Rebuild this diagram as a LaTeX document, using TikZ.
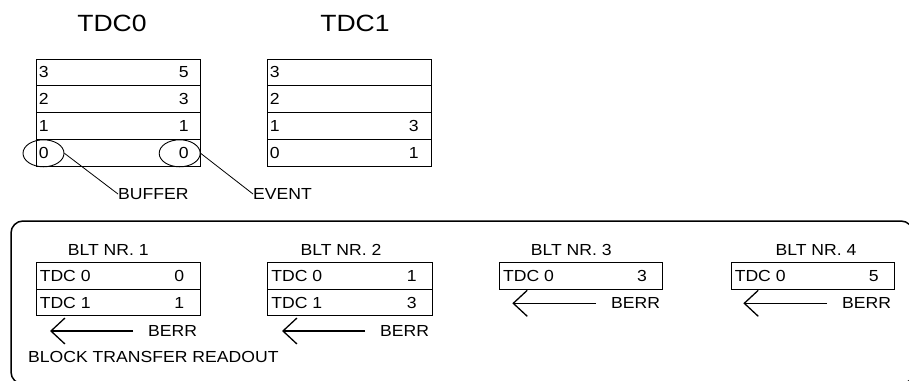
\documentclass[tikz,border=0pt]{standalone}
\usepackage{fontspec}
\setmainfont{Liberation Sans}
\usetikzlibrary{shapes.geometric,arrows.meta}
\newcommand\wx[1]{\scalebox{1.1}[1]{#1}}
\newcommand\wt[1]{\scalebox{1.13}[1]{#1}}
\tikzset{
  cell/.style={draw,line width=0.9pt,minimum width=#1,minimum height=26.9pt,inner sep=0pt},
  bcell/.style={draw,line width=0.9pt,minimum width=#1,minimum height=26.5pt,inner sep=0pt},
  txt/.style={inner sep=0pt,font=\fontsize{16}{16}\selectfont},
  ttl/.style={inner sep=0pt,font=\fontsize{23.5}{23.5}\selectfont},
  oval/.style={draw,ellipse,line width=0.9pt,minimum width=41pt,minimum height=27pt,inner sep=0pt},
  lead/.style={line width=0.8pt},
  barb/.style={line width=1.3pt,-{Straight Barb[length=14pt,width=26pt,line width=1.3pt]}},
  frame/.style={line width=1.5pt,rounded corners=12pt}
}
\begin{document}
\begin{tikzpicture}[x=1pt,y=-1pt]
\useasboundingbox (0,0) rectangle (909,380);
% titles
\node[ttl] (t0) at (112,23) {\wt{TDC0}};
\node[ttl] (t1) at (355,23) {\wt{TDC1}};
% TDC0 cells
\node[cell=163.3pt] (a3) at (118.35,72.45) {};
\node[cell=163.3pt] (a2) at (118.35,99.35) {};
\node[cell=163.3pt] (a1) at (118.35,126.25) {};
\node[cell=163.3pt] (a0) at (118.35,153.15) {};
\foreach \r/\v in {3/5,2/3,1/1,0/0}{
  \node[txt,anchor=west] (al\r) at ([xshift=2.5pt]a\r.west) {\wx{\r}};
  \node[txt,anchor=east] (ar\r) at ([xshift=-11.7pt]a\r.east) {\wx{\v}};
}
% TDC1 cells
\node[cell=163.3pt] (b3) at (349.35,72.45) {};
\node[cell=163.3pt] (b2) at (349.35,99.35) {};
\node[cell=163.3pt] (b1) at (349.35,126.25) {};
\node[cell=163.3pt] (b0) at (349.35,153.15) {};
\foreach \r in {3,2,1,0}{
  \node[txt,anchor=west] (bl\r) at ([xshift=2.5pt]b\r.west) {\wx{\r}};
}
\node[txt,anchor=east] (br1) at ([xshift=-12.7pt]b1.east) {\wx{3}};
\node[txt,anchor=east] (br0) at ([xshift=-12.7pt]b0.east) {\wx{1}};
% ellipses and leaders
\node[oval] (e1) at (43.5,153.3) {};
\node[oval] (e2) at (179.7,153.3) {};
\node[txt,anchor=west] (buf) at (118,194) {\wx{BUFFER}};
\node[txt,anchor=west] (evt) at (253,194) {\wx{EVENT}};
\draw[lead] (e1.east) -- (buf.west);
\draw[lead] (e2.east) -- (evt.west);
% frame
\begin{scope}
\clip (0,0) rectangle (909,380);
\draw[frame] (11,221) rectangle (913,384);
\end{scope}
% BLT titles
\node[txt] (n1) at (108.3,249.5) {\wx{BLT NR. 1}};
\node[txt] (n2) at (341,249.5) {\wx{BLT NR. 2}};
\node[txt] (n3) at (571.3,249.5) {\wx{BLT NR. 3}};
\node[txt] (n4) at (816,249.5) {\wx{BLT NR. 4}};
% BLT boxes
\node[bcell=164pt] (c10) at (118,276) {};
\node[bcell=164pt] (c11) at (118,302.5) {};
\node[bcell=164.3pt] (c20) at (349.85,276) {};
\node[bcell=164.3pt] (c21) at (349.85,302.5) {};
\node[bcell=163pt] (c30) at (580.8,276) {};
\node[bcell=163.3pt] (c40) at (812.65,276) {};
\node[txt,anchor=west] (c10l) at ([xshift=4pt]c10.west) {\wx{TDC 0}};
\node[txt,anchor=east] (c10r) at ([xshift=-16pt]c10.east) {\wx{0}};
\node[txt,anchor=west] (c11l) at ([xshift=4pt]c11.west) {\wx{TDC 1}};
\node[txt,anchor=east] (c11r) at ([xshift=-16pt]c11.east) {\wx{1}};
\node[txt,anchor=west] (c20l) at ([xshift=4pt]c20.west) {\wx{TDC 0}};
\node[txt,anchor=east] (c20r) at ([xshift=-15.5pt]c20.east) {\wx{1}};
\node[txt,anchor=west] (c21l) at ([xshift=4pt]c21.west) {\wx{TDC 1}};
\node[txt,anchor=east] (c21r) at ([xshift=-15.5pt]c21.east) {\wx{3}};
\node[txt,anchor=west] (c30l) at ([xshift=4pt]c30.west) {\wx{TDC 0}};
\node[txt,anchor=east] (c30r) at ([xshift=-15.6pt]c30.east) {\wx{3}};
\node[txt,anchor=west] (c40l) at ([xshift=4pt]c40.west) {\wx{TDC 0}};
\node[txt,anchor=east] (c40r) at ([xshift=-16pt]c40.east) {\wx{5}};
% BERR arrows
\node[txt,anchor=west] (r1) at (148,331) {\wx{BERR}};
\node[txt,anchor=west] (r2) at (380,331) {\wx{BERR}};
\node[txt,anchor=west] (r3) at (611,303.3) {\wx{BERR}};
\node[txt,anchor=west] (r4) at (842,303.3) {\wx{BERR}};
\coordinate (p1) at (50,331);
\coordinate (p2) at (282,331);
\coordinate (p3) at (512.3,303.3);
\coordinate (p4) at (743.3,303.3);
\foreach \i in {1,2,3,4}{
  \draw[barb] ([xshift=-15pt]r\i.west) -- (p\i);
}
\node[txt,anchor=west] (btr) at (28,357) {\wx{BLOCK TRANSFER READOUT}};
\end{tikzpicture}
\end{document}
